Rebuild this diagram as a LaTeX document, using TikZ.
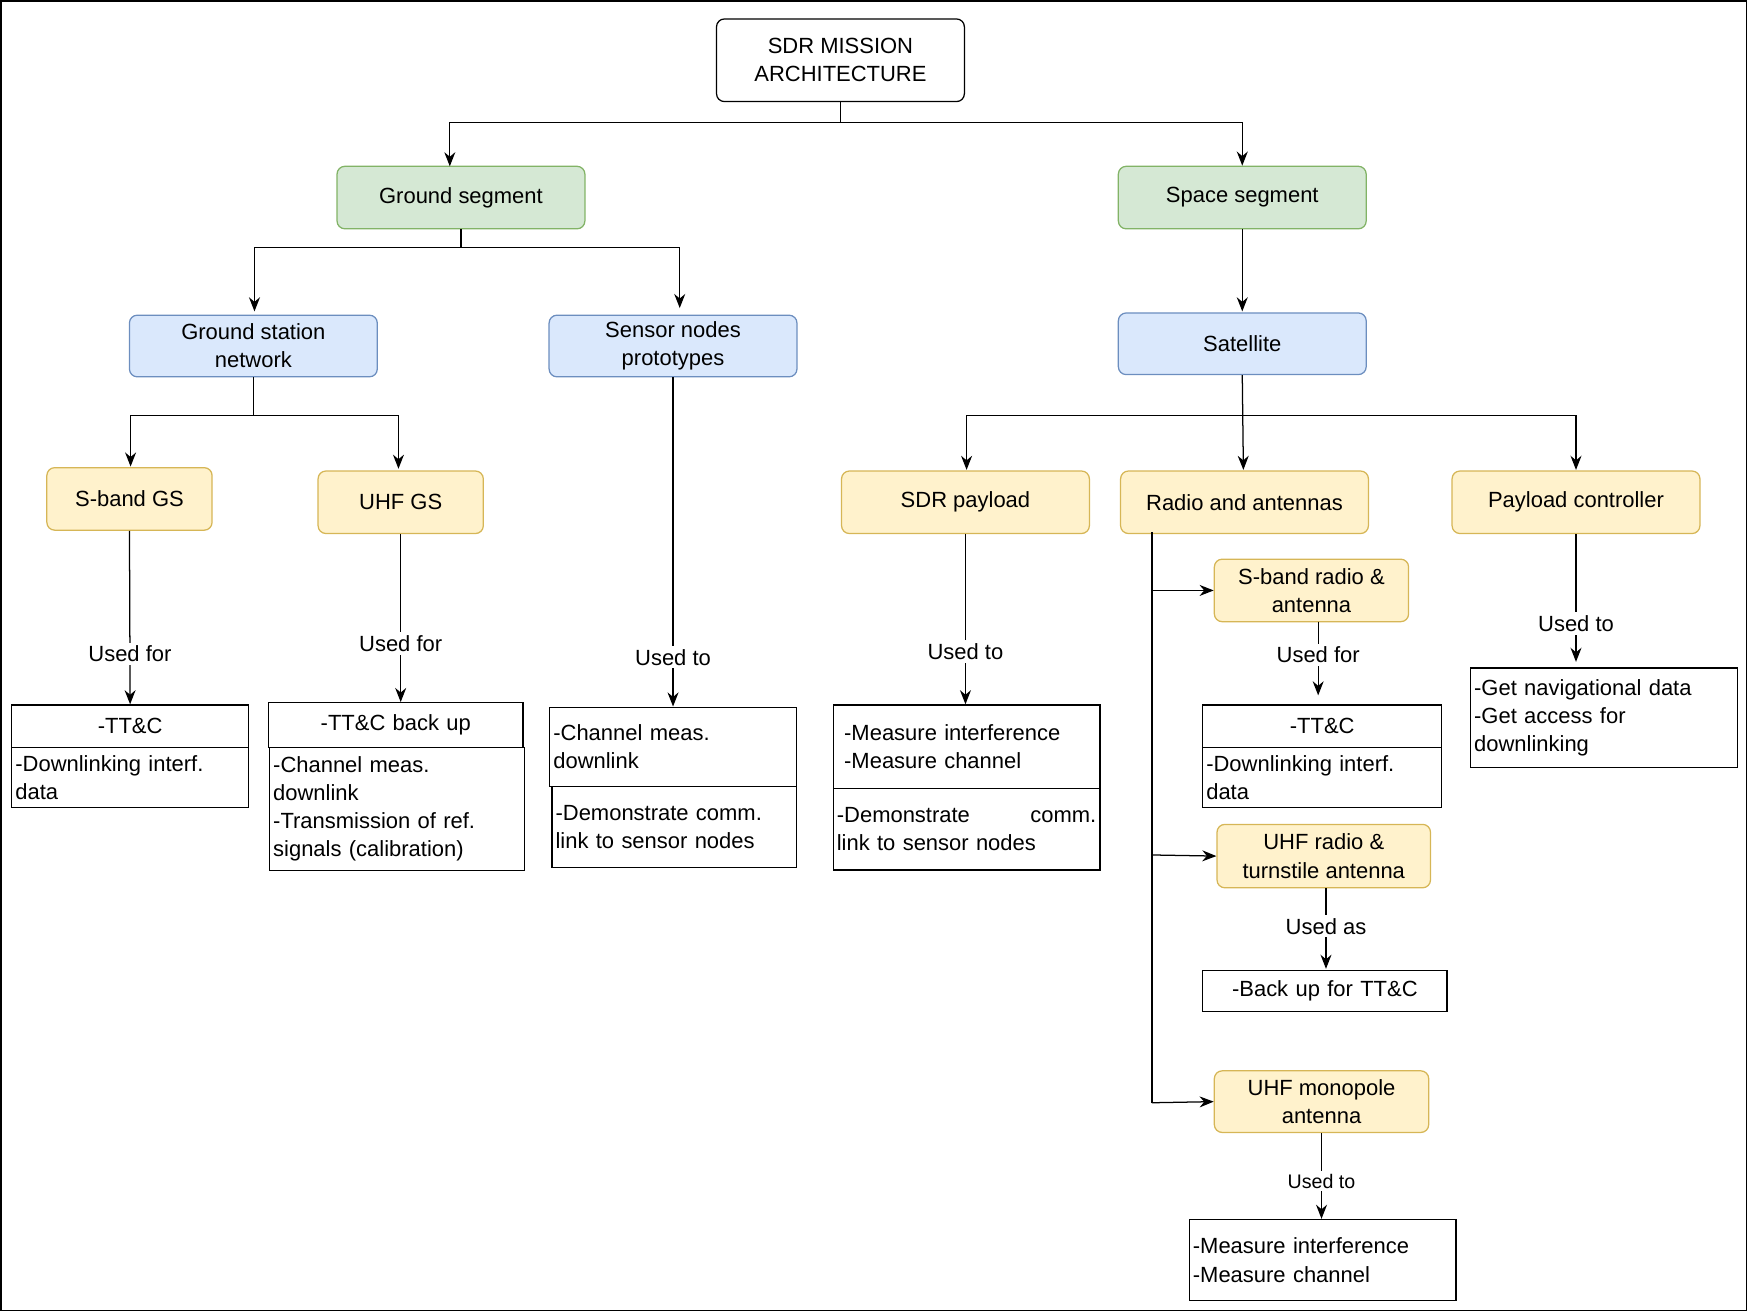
\documentclass[tikz,border=0pt]{standalone}
\usepackage{fontspec}
\setmainfont{Liberation Sans}
\usetikzlibrary{arrows.meta,positioning}

\definecolor{grnfill}{HTML}{D5E8D4}\definecolor{grnline}{HTML}{82B366}
\definecolor{bluefill}{HTML}{DAE8FC}\definecolor{blueline}{HTML}{6C8EBF}
\definecolor{yelfill}{HTML}{FFF2CC}\definecolor{yelline}{HTML}{D6B656}

\begin{document}
\begin{tikzpicture}[x=0.025cm,y=-0.025cm,
    font=\fontsize{14}{18}\selectfont,
    box/.style={draw,rounded corners=5pt,thick,align=center,inner sep=1pt},
    root/.style={box,minimum width=5.55cm,minimum height=1.85cm},
    seg/.style={box,fill=grnfill,draw=grnline,minimum width=5.55cm,minimum height=1.4cm},
    sub/.style={box,fill=bluefill,draw=blueline,minimum width=5.55cm,minimum height=1.38cm},
    part/.style={box,fill=yelfill,draw=yelline,minimum height=1.4cm},
    txt/.style={draw,thick,rectangle,align=left,anchor=north west,inner sep=0.08cm},
    lbl/.style={fill=white,inner sep=2pt},
    arr/.style={thick,-{Stealth[length=9pt,width=7pt]}}]

    % frame
    \useasboundingbox (0,0) rectangle (1567,1176);
    \draw[thick] (1,1) rectangle (1565,1174);

    % top levels
    \node[root] (mission) at (753,54) {SDR MISSION\\ARCHITECTURE};
    \node[seg] (ground) at (413,177) {Ground segment};
    \node[seg] (space) at (1113,177) {Space segment};
    \node[sub] (gsnet) at (227,310) {Ground station\\network};
    \node[sub] (sensor) at (603,310) {Sensor nodes\\prototypes};
    \node[sub] (sat) at (1113,308) {Satellite};

    % parts
    \node[part,minimum width=3.7cm] (sgs) at (116,447) {S-band GS};
    \node[part,minimum width=3.7cm] (ugs) at (359,450) {UHF GS};
    \node[part,minimum width=5.55cm] (payload) at (865,450) {SDR payload};
    \node[part,minimum width=5.55cm] (radio) at (1115,450) {Radio and antennas};
    \node[part,minimum width=5.55cm] (ctrl) at (1412,450) {Payload controller};
    \node[part,minimum width=4.35cm] (sbr) at (1175,529) {S-band radio \&\\antenna};
    \node[part,minimum width=4.78cm,minimum height=1.42cm] (uhfr) at (1186,767) {UHF radio \&\\turnstile antenna};
    \node[part,minimum width=4.8cm,minimum height=1.38cm] (mono) at (1184,987) {UHF monopole\\antenna};

    % text boxes
    \node[txt,align=center,text width=5.14cm,minimum height=0.95cm] (sgsA) at (10,631) {-TT\&C};
    \node[txt,text width=5.14cm,minimum height=1.35cm] (sgsB) at (10,669) {-Downlinking interf.\\data};
    \node[txt,align=center,text width=5.54cm,minimum height=1cm] (ugsA) at (240,629) {-TT\&C back up};
    \node[txt,text width=5.54cm,minimum height=2.75cm] (ugsB) at (241,669) {-Channel meas.\\downlink\\-Transmission of ref.\\signals (calibration)};
    \node[txt,text width=5.36cm,minimum height=1.77cm] (senA) at (492,633) {-Channel meas.\\downlink};
    \node[txt,text width=5.31cm,minimum height=1.82cm] (senB) at (494,704) {-Demonstrate comm.\\link to sensor nodes};
    \node[txt,text width=5.81cm,minimum height=1.87cm] (payA) at (746,631) {\ -Measure interference\\\ -Measure channel};
    \node[txt,text width=5.81cm,minimum height=1.82cm] (payB) at (746,706) {-Demonstrate\hfill comm.\\link to sensor nodes};
    \node[txt,align=center,text width=5.19cm,minimum height=0.95cm] (sbrA) at (1077,631) {-TT\&C};
    \node[txt,text width=5.19cm,minimum height=1.35cm] (sbrB) at (1077,669) {-Downlinking interf.\\data};
    \node[txt,align=center,text width=5.31cm,minimum height=0.92cm] (uhfA) at (1077,869) {-Back up for TT\&C};
    \node[txt,text width=5.81cm,minimum height=1.82cm] (monoA) at (1065,1092) {-Measure interference\\-Measure channel};
    \node[txt,text width=5.81cm,minimum height=2.22cm] (ctrlA) at (1317,598) {-Get navigational data\\-Get access for\\downlinking};

    % tree connectors
    \draw[arr] (mission.south) |- (403,110) -- (403,149);
    \draw[arr] (mission.south) |- (space.north |- 0,110) -- (space.north);
    \draw[arr] (ground.south) |- (228,222) -- (228,279);
    \draw[arr] (ground.south) |- (609,222) -- (609,276);
    \draw[arr] (space.south) -- (1113,279);
    \draw[arr] (gsnet.south) |- (117,372) -- (117,418);
    \draw[arr] (gsnet.south) |- (357,372) -- (357,420);
    \draw[arr] (sat.south) |- (866,372) -- (866,421);
    \draw[arr] (sat.south) -- (1114,421);
    \draw[arr] (sat.south) |- (1412,372) -- (1412,421);

    % radio branches
    \coordinate (rtop) at (1032,477);
    \draw[thick] (rtop) -- (1032,988);
    \draw[arr] (1032,529) -- (sbr.west);
    \draw[arr] (1032,766) -- (uhfr.west);
    \draw[arr] (1032,988) -- (mono.west);

    % usage connectors
    \draw[arr] (sgs.south) -- node[lbl,pos=0.71] {Used for} (sgsA.north);
    \draw[arr] (ugs.south) -- node[lbl,pos=0.65] {Used for} (ugsA.north -| ugs.south);
    \draw[arr] (sensor.south) -- node[lbl,pos=0.85] {Used to} (senA.north -| sensor.south);
    \draw[arr] (payload.south) -- node[lbl,pos=0.69] {Used to} (payA.north -| payload.south);
    \draw[arr] (1181,557) -- node[lbl,pos=0.45] {Used for} (1181,623);
    \draw[arr] (1188,796) -- node[lbl,pos=0.47] {Used as} (1188,868);
    \draw[arr] (mono.south) -- node[lbl,pos=0.56,font=\fontsize{12.5}{15}\selectfont] {Used to} (mono.south |- monoA.north);
    \draw[arr] (ctrl.south) -- node[lbl,pos=0.7] {Used to} (1412,593);
\end{tikzpicture}
\end{document}
